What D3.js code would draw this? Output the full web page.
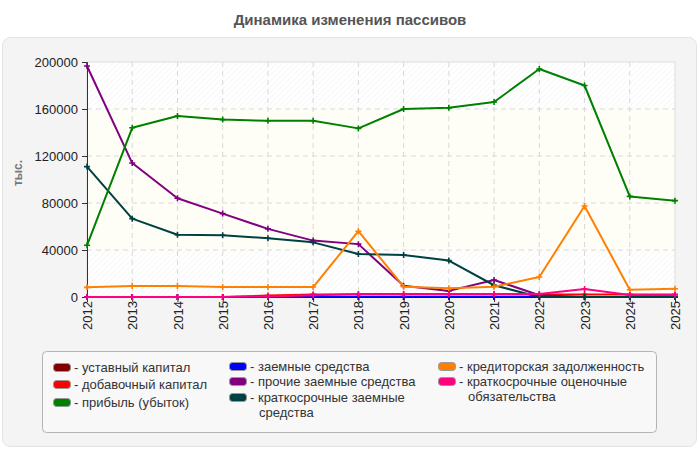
<!DOCTYPE html>
<html><head><meta charset="utf-8">
<script src="https://cdn.jsdelivr.net/npm/d3@7"></script>
<style>
body{margin:0;background:#fff;}
svg{display:block;font-family:"Liberation Sans",Arial,sans-serif;}
</style></head>
<body><svg id="c" width="700" height="450"></svg>
<script>
const years = ["2012","2013","2014","2015","2016","2017","2018","2019","2020","2021","2022","2023","2024","2025"];
const yTicks = [0,40000,80000,120000,160000,200000];
const seriesNames = ["уставный капитал","добавочный капитал","прибыль (убыток)","заемные средства","прочие заемные средства","краткосрочные заемные средства","кредиторская задолженность","краткосрочные оценочные обязательства"];
const seriesColors = ["#800000","#ff0000","#008000","#0000ff","#800080","#004040","#ff8000","#ff0080"];
const ustavnyi    = [10,10,10,10,10,10,10,10,10,10,10,10,10,10];
const dobavochnyi = [0,0,0,0,1200,2200,2200,2200,2200,2200,2200,2200,2200,2200];
const pribyl      = [44000,144000,154000,151000,150000,150000,143500,160000,161000,166000,194000,180000,85600,82000];
const zaemnye     = [0,0,0,0,0,0,0,0,0,0,0,0,0,0];
const prochie     = [196600,114000,84000,71000,58000,48000,45000,9600,5200,14500,1500,0,0,0];
const kratkZaem   = [111000,66700,53000,52500,50000,46500,36600,35700,31000,10000,0,0,0,0];
const kreditor    = [8200,9400,9400,8500,8500,8500,56000,8800,7400,8800,17000,77400,6200,7000];
const ocenochnye  = [0,0,0,0,500,1500,2500,2500,2500,2500,2500,6800,1800,1700];
const seriesValues = [ustavnyi,dobavochnyi,pribyl,zaemnye,prochie,kratkZaem,kreditor,ocenochnye];

const svg = d3.select("#c");
const defs = svg.append("defs");
const pat = defs.append("pattern").attr("id","hatch").attr("patternUnits","userSpaceOnUse")
  .attr("width",4).attr("height",4).attr("patternTransform","rotate(45)");
pat.append("rect").attr("width",4).attr("height",4).attr("fill","#ffffff");
pat.append("line").attr("x1",0).attr("y1",0).attr("x2",0).attr("y2",4).attr("stroke","#efefef").attr("stroke-width",1);

// title
svg.append("text").attr("x",350).attr("y",25).attr("text-anchor","middle")
  .attr("font-size",15).attr("font-weight","bold").attr("fill","#555").text("Динамика изменения пассивов");
// panel
svg.append("rect").attr("x",2.5).attr("y",37.5).attr("width",694).attr("height",409).attr("rx",8)
  .attr("fill","#f4f4f4").attr("stroke","#e2e2e2");

const L=87, R=675, T=62, B=297;
const x = d3.scalePoint().domain(years).range([L,R]);
const y = d3.scaleLinear().domain([0,200000]).range([B,T]);

// plot backgrounds
svg.append("rect").attr("x",L).attr("y",T).attr("width",R-L).attr("height",B-T).attr("fill","url(#hatch)");
svg.append("rect").attr("x",L).attr("y",y(160000)).attr("width",R-L).attr("height",y(40000)-y(160000)).attr("fill","#fefef7");
svg.append("rect").attr("x",L).attr("y",T).attr("width",R-L).attr("height",B-T).attr("fill","none").attr("stroke","#dddddd");

// grid
const g = svg.append("g");
g.selectAll(".gy").data(yTicks.slice(1,-1)).join("line")
  .attr("x1",L).attr("x2",R).attr("y1",d=>y(d)).attr("y2",d=>y(d))
  .attr("stroke","#d8d8d8").attr("stroke-dasharray","5,4");
g.selectAll(".gx").data(years.slice(1,-1)).join("line")
  .attr("x1",d=>x(d)).attr("x2",d=>x(d)).attr("y1",T).attr("y2",B)
  .attr("stroke","#d8d8d8").attr("stroke-dasharray","5,4");

// axes
const ya = svg.append("g").attr("transform",`translate(${L},0)`)
  .call(d3.axisLeft(y).tickValues(yTicks).tickFormat(d3.format("d")).tickSize(5).tickPadding(4));
ya.selectAll("text").attr("font-size",13).attr("fill","#222").attr("font-family","Liberation Sans, Arial, sans-serif");
ya.select(".domain").attr("stroke","#333");
ya.selectAll(".tick line").attr("stroke","#333");

const xa = svg.append("g").attr("transform",`translate(0,${B})`)
  .call(d3.axisBottom(x).tickSize(5).tickPadding(4));
xa.select(".domain").attr("stroke","#333");
xa.selectAll(".tick line").attr("stroke","#333");
xa.selectAll("text").attr("font-size",13).attr("fill","#222").attr("font-family","Liberation Sans, Arial, sans-serif")
  .attr("transform","rotate(-90)").attr("text-anchor","end").attr("dx","-4").attr("dy","0.35em").attr("y",0).attr("x",0);

svg.append("text").attr("transform","translate(22,173) rotate(-90)").attr("text-anchor","middle")
  .attr("font-size",12).attr("font-weight","bold").attr("fill","#777").text("тыс.");

// lines
const line = d3.line().x((d,i)=>x(years[i])).y(d=>y(d));
const order = [0,1,3,4,5,6,2,7];
order.forEach(si=>{
  const vals = seriesValues[si];
  const gg = svg.append("g");
  gg.append("path").datum(vals).attr("d",line).attr("fill","none")
    .attr("stroke",seriesColors[si]).attr("stroke-width",2).attr("stroke-linejoin","round");
  gg.selectAll("path.m").data(vals).join("path").attr("class","m")
    .attr("d",(d,i)=>{const cx=x(years[i]),cy=y(d);return `M${cx-3},${cy}L${cx+3},${cy}M${cx},${cy-3}L${cx},${cy+3}`;})
    .attr("stroke",seriesColors[si]).attr("stroke-width",1.6);
});

// legend
svg.append("rect").attr("x",42.5).attr("y",351.5).attr("width",614).attr("height",81).attr("rx",4)
  .attr("fill","#f8f8f8").attr("stroke","#b5b5b5");
const legendPos = [
  {c:0, x:53, y:367, lines:["- уставный капитал"]},
  {c:1, x:53, y:384, lines:["- добавочный капитал"]},
  {c:2, x:53, y:402, lines:["- прибыль (убыток)"]},
  {c:3, x:229, y:366, lines:["- заемные средства"]},
  {c:4, x:229, y:381, lines:["- прочие заемные средства"]},
  {c:5, x:229, y:397, lines:["- краткосрочные заемные","средства"]},
  {c:6, x:438, y:366, lines:["- кредиторская задолженность"]},
  {c:7, x:438, y:381, lines:["- краткосрочные оценочные","обязательства"]}
];
legendPos.forEach(p=>{
  svg.append("rect").attr("x",p.x+0.5).attr("y",p.y-3.5).attr("width",17).attr("height",8).attr("rx",3)
    .attr("fill",seriesColors[p.c]).attr("stroke","#999").attr("stroke-width",1);
  const t = svg.append("text").attr("x",p.x+21).attr("y",p.y+5).attr("font-size",13)
    .attr("fill","#333").attr("font-family","Liberation Sans, Arial, sans-serif");
  p.lines.forEach((s,i)=>{
    t.append("tspan").attr("x", i===0 ? p.x+21 : p.x+21+9).attr("dy", i===0?0:15).text(s);
  });
});
</script></body></html>
